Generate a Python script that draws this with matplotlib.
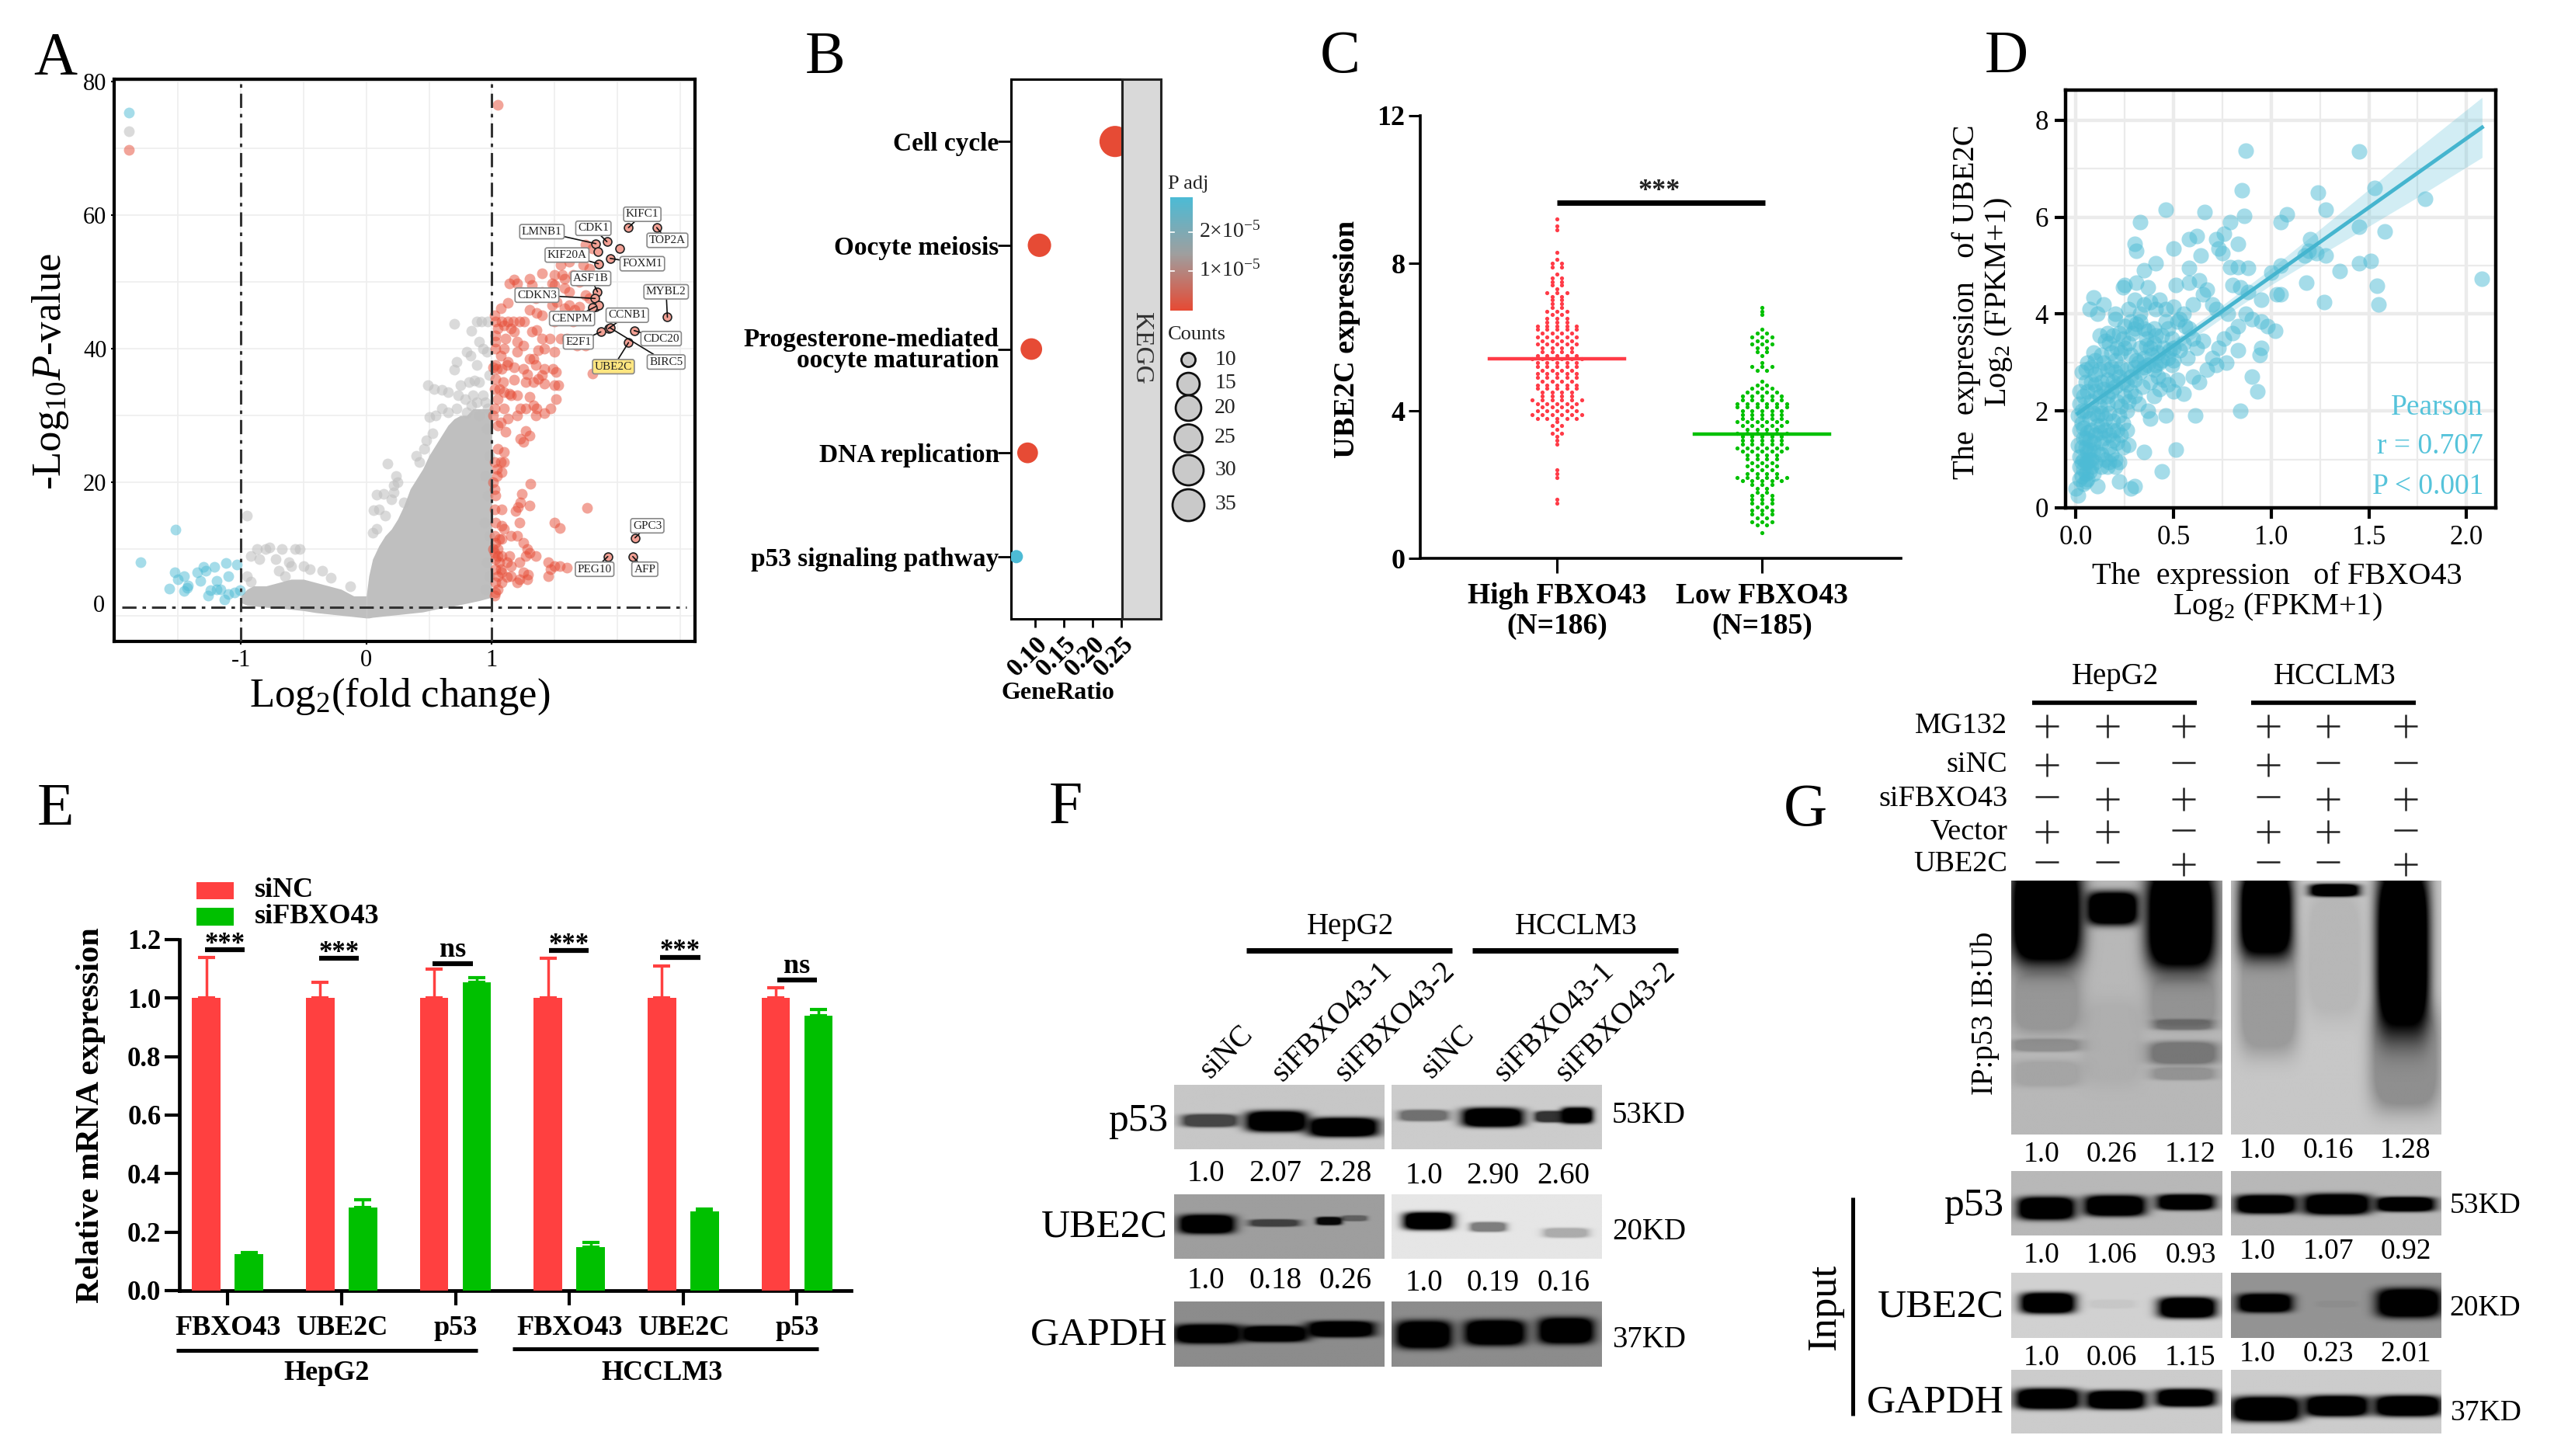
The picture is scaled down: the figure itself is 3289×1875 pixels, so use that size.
import numpy as np
import matplotlib
matplotlib.use("Agg")
import matplotlib.pyplot as plt
from matplotlib.colors import LinearSegmentedColormap
from matplotlib.patches import Rectangle

plt.rcParams['font.family'] = ['Liberation Serif', 'DejaVu Serif']
plt.rcParams['mathtext.fontset'] = 'custom'
plt.rcParams['mathtext.rm'] = 'Liberation Serif'
plt.rcParams['mathtext.it'] = 'Liberation Serif:italic'
plt.rcParams['mathtext.bf'] = 'Liberation Serif:bold'
plt.rcParams['axes.unicode_minus'] = False

W, H = 3289, 1875
RED, BLUE = '#E64B35', '#4DBBD5'

# ---------- Panel A data ----------
a_blue_x = [-1.89,-1.52,-1.80,-1.53,-1.50,-1.45,-1.57,-1.43,-1.42,-1.35,-1.32,-1.30,-1.28,-1.21,-1.19,-1.12,-1.10,-1.19,-1.16,-1.26,-1.13,-1.10,-1.05,-1.03,-1.01,-1.45,-1.24]
a_blue_y = [75.3,12.9,8.0,6.5,5.5,5.9,4.1,4.2,4.6,6.5,5.3,7.3,6.8,7.4,5.3,7.9,6.0,4.0,4.0,3.1,2.5,3.3,3.5,7.7,3.9,3.8,3.9]
a_grey_x = [-1.89,-.95,-.87,-.80,-.77,-.67,-.57,-.53,-.92,-.85,-.72,-.62,-.60,-.50,-.45,-.35,-.70,-.65,-.95,-.92,-.28,-.13,.17,.24,.25,.22,.14,.22,.08,.20,.30,.10,.06,.15,.05,.08,.40,.42,.46,.48,.53,.50,.55,.60,.60,.65,.49,.54,.70,.72,.75,.73,.79,.82,.86,.90,.80,.83,.88,.96,.70,.84,.88,.92,.97,.93,.90,.85,.90,.95,.98,.97,.93,.65,.72,.80,.84,.88,.96,.98,.95,.97,.94,.98,.96,.95,.98]
a_grey_y = [72.5,15,10,10,10.3,10,10,10,9,8.5,8.5,8,7.5,7.5,7,6.8,6.8,6,6,5.2,5.7,4.5,22.8,21,20,19.5,18.3,18.5,18.1,17.5,17,16,15.8,15,12.5,13,24,23,25,26.3,27.3,29.8,30,31,33.8,33.5,34.5,34,36.8,38,34.5,33,32.5,35,35.2,35,39.5,39,37.5,39.5,43.7,42.7,44,44,44,40,41,33,30,32,36,31,33,30.5,31,30.5,31.5,32,28,24,21,18,14,12,8,4,6]
a_red_x = [-1.89,1.045,1.75,1.80,1.62,1.55,1.73,1.78,1.40,1.50,1.56,1.30,1.18,1.20,1.14,1.32,1.48,1.50,1.58,1.65,1.70,1.24,1.40,1.58,1.62,1.75,1.78,1.35,1.52,1.62,1.70,1.48,1.13,1.07,1.02,1.30,1.36,1.40,1.58,1.66,1.72,1.52,
 1.03,1.08,1.13,1.17,1.22,1.26,1.10,1.05,1.15,1.32,1.03,1.18,1.36,1.50,1.65,1.03,1.11,1.20,1.25,1.40,1.46,1.55,1.60,1.75,1.68,1.03,1.10,1.20,1.37,1.42,1.50,1.07,1.30,1.33,1.13,1.03,1.01,1.04,1.08,1.12,1.18,1.25,1.35,1.42,1.49,1.51,1.40,1.28,1.37,1.80,
 1.03,1.09,1.18,1.27,1.33,1.42,1.50,1.53,1.02,1.06,1.10,1.14,1.20,1.30,1.51,1.05,1.15,1.02,1.23,1.27,1.33,1.36,1.42,1.47,1.10,1.01,1.20,1.35,1.13,1.07,1.05,1.11,1.27,1.30,1.23,1.25,
 1.05,1.10,1.02,1.07,1.10,1.04,1.08,1.04,1.01,1.31,1.02,1.03,1.24,1.23,1.21,1.19,1.30,1.76,1.02,1.08,1.03,1.08,1.10,1.22,1.15,1.50,1.54,1.02,1.06,1.08,1.20,1.25,1.03,1.05,1.01,1.28,1.30,1.02,1.05,1.08,1.14,1.27,1.35,1.03,1.06,1.12,1.22,1.45,1.50,1.15,1.03,1.07,1.47,1.54,1.60,1.08,1.15,1.25,1.29,1.45,1.05,1.12,1.22,1.28,1.03,1.08,1.20,1.05,1.03,1.02]
a_red_y = [69.7,76.5,55.5,55,53,52.5,52.5,52,51.3,51,51,50.5,50.3,49.8,49.7,49.5,49.7,49.5,50.5,51,50,48.5,48.5,49,48.5,48,47.5,47.5,47,46.5,46.3,46.5,46.8,46,45,45.8,45.3,45,46,45.8,45,44.5,
 44,44,44,44,44,44,43.5,43,43,42.5,42,42.5,42.8,44,44,41,41.5,41,40.5,41.5,41.5,41.5,41.5,40.5,40.5,40,40,39.5,39.8,40,39.5,39,38.5,38.5,38,37.5,37.2,37,37,37.5,37.2,37,37.5,37,37,36.5,36,36.2,35.5,36.3,
 35.5,35,35.3,35,35,34.8,34.5,34.5,34,34,33.5,33.2,33,32.8,32.5,32.5,33,31,31,31,31.5,31,30.3,31,31,30,30,30,29.5,29,28.5,27.6,27.7,27,26.5,26,
 25,24.5,23,23,23,22,21.5,21,20,19.8,19,18,18.3,17,16.3,15.7,16.5,16.2,16,16,14,13.5,13,14,12,14,13.2,12,11.5,11.5,12,11,11,10,10,10,9.5,9.5,9,9,9,9,9,8.5,8,8,8,8,7.5,7.5,7,7,7,7.5,7.2,6.5,6,6.5,6.2,6,6,5.8,5.5,5.5,5,5,5,4,3.5,3]
a_env_x_right = [0,.02,.05,.10,.15,.20,.25,.30,.35,.40,.45,.50,.55,.60,.65,.70,.75,.80,.85,.90,1.0]
a_env_hi_right = [3,6,8.5,10.5,12,13,14.5,16.5,19,20.5,22,24,25.5,27,28.5,29.5,30,30,31,31,31]
a_env_lo_right = [-.3,-.3,-.2,-.1,0,.1,.2,.3,.4,.5,.6,.8,1,1.2,1.3,1.5,1.7,1.9,2.1,2.3,2.8]
a_env_x_left = [-1,-.95,-.9,-.8,-.7,-.6,-.5,-.4,-.3,-.2,-.1,0]
a_env_hi_left = [3,4,4.5,4.5,5,5.5,5.5,5,4.5,4,3,3]
a_env_lo_left = [2,1.6,1.5,1.3,1.2,1,.8,.5,.3,.1,-.1,-.3]
a_genes = ['KIFC1','TOP2A','CDK1','LMNB1','FOXM1','KIF20A','ASF1B','MYBL2','CDKN3','CENPM','CCNB1','CDC20','E2F1','BIRC5','UBE2C','GPC3','PEG10','AFP']
a_gene_x = [2.09,2.315,1.918,1.83,1.944,1.85,1.843,2.40,1.824,1.83,1.93,2.135,1.869,1.944,2.09,2.142,1.925,2.124]
a_gene_y = [58.1,58.1,56,55.7,53.5,52.7,48.5,44.7,47.5,46.3,43.0,42.7,42.5,43.1,40.9,11.7,8.9,8.9]
a_lab_x = [2.20,2.40,1.81,1.40,2.20,1.60,1.79,2.39,1.36,1.64,2.08,2.35,1.69,2.39,1.97,2.24,1.82,2.22]
a_lab_y = [60.1,56.2,58,57.5,52.7,54,50.5,48.5,48,44.5,45,41.5,41,38,37.3,13.5,7,7]
a_extra_x = [2.02,1.846,1.85,1.80]
a_extra_y = [55,54.5,46.5,46.2]

# ---------- Panel B data ----------
b_terms = ['p53 signaling pathway','DNA replication','Progesterone-mediated\noocyte maturation','Oocyte meiosis','Cell cycle']
b_ratio = [.068,.0875,.094,.108,.239]
b_size = [150,370,400,470,835]
b_padj = [1,0,0,0,0]
b_counts = [10,15,20,25,30,35]
b_count_size = [170,430,560,670,790,870]

# ---------- Panel C data ----------
c_high_lv = [1.5,1.6,2.2,2.3,2.4,3.1,3.2,3.3,3.4,3.5,3.6,3.7,3.8,3.9,4.0,4.1,4.2,4.3,4.4,4.5,4.6,4.7,4.8,4.9,5.0,5.1,5.2,5.3,5.4,5.5,5.6,5.7,5.8,5.9,6.0,6.1,6.2,6.3,6.4,6.5,6.6,6.7,6.8,6.9,7.0,7.1,7.2,7.3,7.4,7.5,7.6,7.7,7.9,8.0,8.1,8.3,8.9,9.0,9.2]
c_high_n = [1,1,1,1,1,1,1,1,2,1,2,1,5,6,5,4,5,6,4,4,5,5,4,5,5,4,5,5,6,5,4,4,5,4,5,4,5,5,3,3,2,3,2,2,2,2,3,1,2,2,2,1,2,2,1,1,1,1,1]
c_low_lv = [.7,.9,1.0,1.1,1.2,1.3,1.4,1.5,1.6,1.7,1.8,1.9,2.0,2.1,2.2,2.3,2.4,2.5,2.6,2.7,2.8,2.9,3.0,3.1,3.2,3.3,3.4,3.5,3.6,3.7,3.8,3.9,4.0,4.1,4.2,4.3,4.4,4.5,4.6,4.7,4.8,5.1,5.2,5.3,5.5,5.6,5.7,5.8,5.9,6.0,6.1,6.2,6.6,6.7,6.8]
c_low_n = [1,2,3,2,3,3,2,3,3,3,2,2,3,5,6,4,3,4,3,4,4,5,6,5,5,5,6,4,5,6,5,5,5,6,6,5,5,4,3,2,1,2,3,1,1,2,2,3,2,3,2,1,1,1,1]
c_means = [5.42,3.36]
c_labels = ['High FBXO43\n(N=186)','Low FBXO43\n(N=185)']

# ---------- Panel D data ----------
d_pts = [(.87,7.37),(1.45,7.35),(.85,6.55),(1.24,6.5),(1.53,6.6),(1.79,6.38),(2.08,4.73),(.46,6.15),(.66,6.1),(.86,6.03),(.33,5.9),(1.08,6.05),(1.05,5.9),(1.28,6.15),(.79,5.9),(1.45,5.8),(1.58,5.7),(1.2,5.55),(.3,5.45),(.31,5.3),(.5,5.35),(.62,5.6),(.58,5.55),(.72,5.55),(.76,5.65),(.83,5.45),(.73,5.35),(.75,5.25),(.64,5.2),(1.19,5.3),(1.28,5.2),(1.05,5.0),(1.35,4.88),(1.45,5.05),(1.51,5.1),(.41,5.05),(.35,4.9),(.58,4.95),(.79,4.97),(.83,4.97),(.88,4.95),(1.17,5.2),(1.23,5.25),(1.0,4.85),(1.18,4.65),(1.54,4.58),(1.55,4.2),(1.27,4.25),(.24,4.55),(.25,4.6),(.31,4.65),(.37,4.55),(.51,4.6),(.58,4.65),(.63,4.7),(.65,4.4),(.67,4.5),(.8,4.6),(.84,4.55),(.88,4.45),(.95,4.3),(1.03,4.4),(1.05,4.4),(.09,4.35),(.07,4.1),(.14,4.2),(.11,4.0),(.2,3.9),
 (.12,3.55),(.15,3.45),(.17,3.4),(.21,3.3),(.23,3.2),(.25,3.3),(.27,3.4),(.29,3.6),(.3,3.7),(.31,3.8),(.33,3.85),(.35,3.7),(.36,3.5),(.38,3.3),(.39,3.15),(.4,3.4),(.42,3.2),(.43,3.0),(.44,3.55),(.46,3.85),(.47,3.7),(.49,3.5),(.5,3.3),(.52,3.85),(.53,3.9),(.56,3.75),(.58,3.7),(.6,3.5),(.62,3.3),(.65,3.45),(.7,3.1),(.73,3.3),(.76,3.5),(.8,3.6),(.83,3.75),(.83,3.25),(.77,3.0),(.87,4.0),(.9,3.9),(.95,3.85),(.98,3.75),(1.02,3.65),(.95,3.3),(.94,3.15),(.2,4.0),(.27,4.1),(.28,3.85),(.3,4.3),(.33,4.0),(.35,4.2),(.38,4.25),(.41,4.1),(.43,4.3),(.46,4.1),(.5,4.15),(.55,4.0),(.6,4.2),(.7,4.2),(.72,4.1),(.78,4.0),
 (.03,2.8),(.05,2.85),(.08,2.9),(.1,2.75),(.12,2.85),(.14,3.0),(.16,2.85),(.18,2.9),(.2,2.8),(.22,2.7),(.24,2.6),(.26,2.55),(.28,2.7),(.3,2.65),(.33,2.8),(.35,2.9),(.37,2.95),(.4,2.85),(.42,2.7),(.45,2.65),(.47,2.55),(.5,2.4),(.52,2.65),(.6,2.7),(.63,2.6),(.67,2.85),(.72,2.95),(.9,2.7),(.93,2.4),(.84,2.0),
 (.02,2.4),(.04,2.3),(.06,2.4),(.08,2.2),(.1,2.4),(.12,2.3),(.14,2.45),(.16,2.3),(.18,2.4),(.2,2.5),(.21,2.2),(.23,2.1),(.25,2.3),(.27,2.2),(.03,2.0),(.05,2.0),(.07,1.85),(.09,1.95),(.11,1.9),(.13,1.95),(.15,1.85),(.17,1.95),(.19,1.8),(.22,1.9),(.24,1.75),(.26,1.6),(.37,2.0),(.46,1.9),(.61,1.9),(.38,1.85),(.02,1.6),(.04,1.65),(.06,1.55),(.08,1.6),(.1,1.5),(.12,1.55),(.14,1.45),(.17,1.5),(.19,1.4),(.21,1.35),(.24,1.25),(.51,1.2),(.35,1.15),(.01,1.3),(.03,1.25),(.05,1.25),(.07,1.2),(.09,1.2),(.11,1.15),(.13,1.1),(.15,1.0),(.18,1.1),(.2,1.0),(.02,1.05),(.04,1.0),(.06,.95),
 (.02,.85),(.04,.8),(.05,.7),(.07,.75),(.08,.85),(.03,.65),(.05,.55),(.13,.85),(.16,.85),(.2,.85),(.22,.95),(.44,.75),(.0,.4),(.01,.25),(.11,.45),(.22,.55),(.28,.4),(.3,.45),(.02,.6),
 (.06,3.0),(.09,3.2),(.13,3.15),(.16,3.6),(.19,3.55),(.22,3.6),(.25,3.75),(.28,3.15),(.31,3.05),(.33,3.3),(.35,3.1),(.37,3.65),(.4,3.7),(.41,2.95),(.44,3.05),(.47,3.1),(.49,2.95),(.5,3.05),(.53,3.25),(.55,3.4),(.57,3.1),(.1,2.55),(.13,2.6),(.16,2.65),(.19,2.6),(.23,2.9),(.26,2.85),(.3,2.9),(.32,3.0),(.34,2.5),(.38,2.6),(.4,2.3),(.43,2.45),(.55,2.35),(.01,1.9),(.03,1.75),(.05,1.45),(.07,1.4),(.09,1.35),(.11,1.7),(.13,1.7),(.15,1.6),(.17,1.25),(.19,1.6),(.21,1.6),(.23,1.5),(.26,2.0),(.28,2.4),(.3,2.3),(.32,2.15),(.16,2.15),(.12,2.1),(.08,2.6),(.05,2.6),(.02,2.15),(.04,1.45),(.06,1.15),(.08,1.0),(.1,.95),(.03,.95),(.05,.95),(.07,1.0),(.09,.7),(.06,.6),(.04,.5),(.17,.95),(.27,1.3),(.13,1.35),(.36,3.35),(.41,3.55),(.45,3.3),(.48,3.25),(.24,3.5),(.18,3.2),(.2,3.05),(.1,3.05)]
d_line_x = [0.01,2.08]
d_line_y = [1.95,7.85]
d_ci_x = [0.01,.25,.5,.75,1.0,1.25,1.5,1.75,2.08]
d_ci_half = [.28,.17,.13,.13,.17,.27,.38,.5,.62]
d_ci_mid = [1.95,2.63,3.34,4.05,4.77,5.48,6.19,6.91,7.85]

# ---------- Panel E data ----------
e_labels = ['FBXO43','UBE2C','p53','FBXO43','UBE2C','p53']
e_red = [1,1,1,1,1,1]
e_red_top = [1.14,1.055,1.10,1.135,1.11,1.035]
e_green = [.125,.285,1.055,.15,.27,.94]
e_green_top = [.13,.31,1.07,.165,.28,.96]
e_sig = ['***','***','ns','***','***','ns']
e_sig_y = [1.166,1.136,1.118,1.163,1.14,1.063]

# ---------- Blot annotation text ----------
f_lanes = ['siNC','siFBXO43-1','siFBXO43-2','siNC','siFBXO43-1','siFBXO43-2']
f_ratio_p53 = ['1.0','2.07','2.28','1.0','2.90','2.60']
f_ratio_ube = ['1.0','0.18','0.26','1.0','0.19','0.16']
g_rows = ['MG132','siNC','siFBXO43','Vector','UBE2C']
g_signs = ['+++','+--','-++','++-','--+']
g_ratio_ip = ['1.0','0.26','1.12','1.0','0.16','1.28']
g_ratio_p53 = ['1.0','1.06','0.93','1.0','1.07','0.92']
g_ratio_ube = ['1.0','0.06','1.15','1.0','0.23','2.01']

fig = plt.figure(figsize=(W/100, H/100), dpi=100, facecolor='white')

def axpx(x0, y0, x1, y1):
    return fig.add_axes([x0/W, 1-y1/H, (x1-x0)/W, (y1-y0)/H])

ov = fig.add_axes([0,0,1,1], zorder=20)
ov.set_xlim(0,W); ov.set_ylim(H,0); ov.axis('off')

def T(x, y, s, size, **kw):
    kw.setdefault('ha','center'); kw.setdefault('va','center')
    return ov.text(x, y, s, fontsize=size, color=kw.pop('color','black'), **kw)

def zoomer(x0, y0, w, h):
    return (lambda z: x0 + z*w/1568.0), (lambda z: y0 + z*h/1568.0)

# panel letters
for s,x,y in [('A',71,76),('B',1063,75),('C',1726,74),('D',2584,74),('E',72,1043),('F',1372,1041),('G',2325,1044)]:
    T(x,y,s,56)

# ---------- A ----------
ax = axpx(147,102,895,826)
ax.set_xlim(-2.01,2.62); ax.set_ylim(-3.8,80.3)
ax.fill_between(a_env_x_right,a_env_lo_right,a_env_hi_right,color='#bfbfbf',lw=0,zorder=2)
ax.fill_between(a_env_x_left,a_env_lo_left,a_env_hi_left,color='#bfbfbf',lw=0,zorder=2)
ax.scatter(a_grey_x,a_grey_y,s=100,c='#bdbdbd',alpha=.55,lw=0,zorder=2)
ax.scatter(a_blue_x,a_blue_y,s=100,c=BLUE,alpha=.5,lw=0,zorder=3)
ax.scatter(a_red_x,a_red_y,s=100,c=RED,alpha=.5,lw=0,zorder=3)
ax.scatter(a_gene_x+a_extra_x,a_gene_y+a_extra_y,s=62,c='#f2a094',edgecolors='#222222',lw=1.2,zorder=4)
ax.axvline(-1,color='#333333',lw=2.2,ls=(0,(6,2.5,1.5,2.5)),zorder=5)
ax.axvline(1,color='#333333',lw=2.2,ls=(0,(6,2.5,1.5,2.5)),zorder=5)
ax.plot([-1.95,2.55],[1.3,1.3],color='#333333',lw=2.2,ls=(0,(6,2.5,1.5,2.5)),zorder=5)
ax.set_xticks([-1,0,1]); ax.set_xticklabels(['-1','0','1'])
ax.set_yticks([20,40,60,80])
ax.set_xticks(np.arange(-1.5,2.6,.5),minor=True)
ax.set_yticks(np.arange(0,80,10),minor=True)
ax.grid(which='both',color='#eeeeee',lw=1.2,zorder=0); ax.set_axisbelow(True)
ax.tick_params(which='minor',length=0)
ax.tick_params(which='major',length=3,width=1.5,labelsize=22,pad=4)
for s in ax.spines.values(): s.set_linewidth(3)
T(127,781,'0',22)
for g,gx,gy,lx,ly in zip(a_genes,a_gene_x,a_gene_y,a_lab_x,a_lab_y):
    fc = '#ffe680' if g=='UBE2C' else 'white'
    ax.annotate(g,xy=(gx,gy),xytext=(lx,ly),fontsize=11,ha='center',va='center',color='#222222',zorder=6,
                bbox=dict(boxstyle='round,pad=0.18',fc=fc,ec='#888888',lw=1.2),
                arrowprops=dict(arrowstyle='-',color='#111111',lw=1.2,shrinkA=0,shrinkB=0))
T(515,897,r'Log$_{2}$(fold change)',38)
T(65,478,r'-Log$_{10}$$\mathit{P}$-value',38,rotation=90)

# ---------- B ----------
ax = axpx(1302,102,1445,797)
ax.set_xlim(.0588,.2512); ax.set_ylim(.4,5.6)
cols = [BLUE if p else RED for p in b_padj]
ax.scatter(b_ratio,range(1,6),s=b_size,c=cols,lw=0,zorder=3)
ax.set_yticks(range(1,6)); ax.set_yticklabels(b_terms,fontweight='bold',fontsize=24,linespacing=.85)
for lab in ax.get_yticklabels():
    lab.set_y(lab.get_position()[1])
ax.set_xticks([.10,.15,.20,.25]); ax.set_xticklabels(['0.10','0.15','0.20','0.25'],fontweight='bold',fontsize=24,rotation=45,ha='right',rotation_mode='anchor')
ax.tick_params(axis='y',length=12,width=2,pad=-1)
ax.tick_params(axis='x',length=8,width=2,pad=4)
for s in ax.spines.values(): s.set_linewidth(2.2)
ov.add_patch(Rectangle((1445,102),50,695,fc='#d9d9d9',ec='#222222',lw=2.2))
T(1470,448,'KEGG',24,rotation=-90,color='#333333')
T(1362,892,'GeneRatio',23,fontweight='bold')
T(1530,237,'P adj',19,color='#222222')
cm = LinearSegmentedColormap.from_list('padj',[RED,'#9f9f9f',BLUE])
ov.imshow(np.linspace(1,0,100)[:,None],cmap=cm,extent=(1507,1536,400,254),aspect='auto')
ov.set_xlim(0,W); ov.set_ylim(H,0)
for yy in (299,349):
    ov.plot([1507,1512],[yy,yy],color='white',lw=1.2); ov.plot([1531,1536],[yy,yy],color='white',lw=1.2)
T(1544,298,r'2×10$^{-5}$',20,ha='left',color='#222222')
T(1544,348,r'1×10$^{-5}$',20,ha='left',color='#222222')
T(1541,431,'Counts',19,color='#222222')
leg_y = [463,494,525,564,605,650]
for c,sz,yy in zip(b_counts,b_count_size,leg_y):
    ov.scatter([1530],[yy],s=sz,c='#c9c9c9',edgecolors='#111111',lw=2,zorder=3)
    T(1578,yy,str(c),20,color='#222222')

# ---------- C ----------
ax = axpx(1829,149,2448,719)
ax.set_xlim(-.667,1.678); ax.set_ylim(0,12)
def swarm(levels, counts, pos):
    xs,ys=[],[]
    for l,n in zip(levels,counts):
        off=(np.arange(n)-(n-1)/2)*.048
        xs+=list(pos+off); ys+=[l]*n
    return xs,ys
for lv,n,pos,col in [(c_high_lv,c_high_n,0,'#FF3B47'),(c_low_lv,c_low_n,1,'#00C000')]:
    x,y=swarm(lv,n,pos)
    ax.scatter(x,y,s=14,c=col,lw=0,zorder=3)
    ax.plot([pos-.33,pos+.33],[c_means[pos]]*2,color=col,lw=3.2,zorder=4)
ax.plot([0,1.015],[9.64,9.64],color='black',lw=5,solid_capstyle='butt',clip_on=False)
ax.text(.5,9.95,'***',fontsize=26,ha='center',va='center',fontweight='bold',color='#222222')
ax.set_xticks([0,1]); ax.set_xticklabels(c_labels,fontweight='bold',fontsize=27,linespacing=1.15)
ax.set_yticks([0,4,8,12]); ax.set_yticklabels(['0','4','8','12'],fontweight='bold',fontsize=26)
for s in ('top','right'): ax.spines[s].set_visible(False)
for s in ('left','bottom'): ax.spines[s].set_linewidth(2.6)
ax.tick_params(axis='x',length=14,width=2.2,pad=8)
ax.tick_params(axis='y',length=11,width=2.2,pad=3)
T(1735,437,'UBE2C expression',27.5,fontweight='bold',rotation=90)

# ---------- D ----------
ax = axpx(2660,116,3214,654)
ax.set_xlim(-.053,2.15); ax.set_ylim(0,8.62)
ax.set_xticks([0,.5,1,1.5,2]); ax.set_xticklabels(['0.0','0.5','1.0','1.5','2.0'],fontsize=25)
ax.set_yticks([0,2,4,6,8]); ax.tick_params(labelsize=25,length=10,width=3,pad=6)
ax.set_xticks([.25,.75,1.25,1.75],minor=True); ax.set_yticks([1,3,5,7],minor=True)
ax.tick_params(which='minor',length=0)
ax.grid(which='major',color='#ebebeb',lw=3.2); ax.grid(which='minor',color='#ebebeb',lw=1.6)
ax.set_axisbelow(True)
dx=[p[0] for p in d_pts]; dy=[p[1] for p in d_pts]
ax.scatter(dx,dy,s=210,c=BLUE,alpha=.5,lw=0,zorder=3)
ax.fill_between(d_ci_x,np.array(d_ci_mid)-d_ci_half,np.array(d_ci_mid)+d_ci_half,color=BLUE,alpha=.25,lw=0,zorder=3)
ax.plot(d_line_x,d_line_y,color='#45B5CF',lw=3.5,zorder=4)
for s in ax.spines.values(): s.set_linewidth(3.2)
zx,zy = zoomer(1650,30,1600,830)
for s,yy in [('Pearson',935),('r = 0.707',1030),('P < 0.001',1127)]:
    T(zx(1517),zy(yy),s,27,ha='right',color='#55C3DA')
T(zx(1257),zy(1345),'The  expression   of FBXO43',29)
T(zx(1257),zy(1420),r'Log$_{2}$ (FPKM+1)',29)
T(zx(865),zy(677),'The  expression   of UBE2C',29,rotation=90)
T(zx(905),zy(678),r'Log$_{2}$ (FPKM+1)',29,rotation=90)

# ---------- E ----------
ax = axpx(231,1210,1096,1662)
ax.set_xlim(-.425,5.475); ax.set_ylim(0,1.2)
pos=np.arange(6)
ax.bar(pos-.1875,e_red,.25,color='#FF4040',zorder=3)
ax.bar(pos+.1875,e_green,.25,color='#00C000',zorder=3)
e_sig_x0 = [-.2,-.2,-.2,-.18,-.2,-.175]
for i in pos:
    ax.errorbar(i-.1875,e_red[i],yerr=[[0],[e_red_top[i]-e_red[i]]],color='#FF4040',capsize=8,capthick=3,elinewidth=2.5,zorder=2)
    ax.errorbar(i+.1875,e_green[i],yerr=[[0],[e_green_top[i]-e_green[i]]],color='#00C000',capsize=8,capthick=3,elinewidth=2.5,zorder=2)
    x0=i+e_sig_x0[i]
    ax.plot([x0,x0+.35],[e_sig_y[i]]*2,color='black',lw=4.5,solid_capstyle='butt',clip_on=False,zorder=4)
    if e_sig[i]=='ns':
        ax.text(x0+.175,e_sig_y[i]+.045,'ns',fontsize=26,fontweight='bold',ha='center',va='center',clip_on=False)
    else:
        ax.text(x0+.175,e_sig_y[i]+.018,'***',fontsize=25,fontweight='bold',ha='center',va='center',clip_on=False)
ax.set_xticks(pos); ax.set_xticklabels(e_labels,fontweight='bold',fontsize=26)
ax.set_yticks(np.arange(0,1.3,.2)); ax.set_yticklabels(['0.0','0.2','0.4','0.6','0.8','1.0','1.2'],fontweight='bold',fontsize=25)
for s in ('top','right'): ax.spines[s].set_visible(False)
for s in ('left','bottom'): ax.spines[s].set_linewidth(3.4)
ax.tick_params(axis='x',length=14,width=3,pad=9)
ax.tick_params(axis='y',length=14,width=3,pad=3)
zx,zy = zoomer(0,1000,1150,850)
ov.add_patch(Rectangle((zx(345),zy(250)),zx(411)-zx(345),zy(292)-zy(250),fc='#FF4040',lw=0))
ov.add_patch(Rectangle((zx(345),zy(312)),zx(411)-zx(345),zy(355)-zy(312),fc='#00C000',lw=0))
T(zx(447),zy(270),'siNC',26,ha='left',fontweight='bold')
T(zx(447),zy(333),'siFBXO43',26,ha='left',fontweight='bold')
T(zx(160),zy(805),'Relative mRNA expression',30.5,rotation=90,fontweight='bold')
ov.plot([zx(310),zx(838)],[zy(1363)]*2,color='black',lw=3.6,solid_capstyle='butt')
ov.plot([zx(900),zx(1437)],[zy(1360)]*2,color='black',lw=3.6,solid_capstyle='butt')
T(zx(574),zy(1417),'HepG2',26,fontweight='bold')
T(zx(1163),zy(1417),'HCCLM3',26,fontweight='bold')

# ---------- blots ----------
def blot(fx, fy, x0, y0, x1, y1, bg, bands):
    X0,X1,Y0,Y1 = fx(x0),fx(x1),fy(y0),fy(y1)
    nx,ny = int(X1-X0),int(Y1-Y0)
    xx,yy = np.meshgrid(np.linspace(x0,x1,nx),np.linspace(y0,y1,ny))
    keep = np.ones_like(xx)
    for cx,cy,hw,hh,st in bands:
        p = 1.8*np.exp(-np.abs((xx-cx)/hw)**4-np.abs((yy-cy)/hh)**4)
        keep *= 1-st*np.clip(p,0,1)
    ov.imshow(bg*keep,cmap='gray',vmin=0,vmax=1,extent=(X0,X1,Y1,Y0),aspect='auto',interpolation='bilinear',zorder=1)
    ov.set_xlim(0,W); ov.set_ylim(H,0)

# ---------- F ----------
zx,zy = zoomer(1300,1000,900,800)
L=(370,842); R=(858,1330)
blot(zx,zy,*[L[0],778,L[1],940],.78,[(450,868,62,16,.65),(600,870,68,26,1.),(750,885,78,24,1.)])
blot(zx,zy,*[R[0],778,R[1],940],.80,[(930,855,55,14,.45),(1085,860,68,24,1.),(1220,858,40,14,.75),(1275,855,35,20,1.)])
blot(zx,zy,*[L[0],1055,L[1],1217],.62,[(443,1130,62,24,1.),(595,1127,55,9,.6),(718,1122,28,10,.95),(775,1115,28,7,.4)])
blot(zx,zy,*[R[0],1055,R[1],1217],.90,[(940,1122,55,22,1.),(1075,1137,40,12,.45),(1250,1152,50,12,.25)])
blot(zx,zy,*[L[0],1327,L[1],1490],.55,[(445,1408,75,24,1.),(595,1408,75,20,1.),(745,1396,75,20,1.)])
blot(zx,zy,*[R[0],1327,R[1],1490],.55,[(930,1410,62,35,1.),(1090,1405,68,32,1.),(1250,1400,62,33,1.)])
for s,x,y in zip(f_lanes,[488,725,865,985,1222,1360],[695,620,620,695,620,620]):
    T(zx(x),zy(y),s,28,rotation=45,rotation_mode='anchor')
for s,y in [('p53',870),('UBE2C',1137),('GAPDH',1410)]:
    T(zx(355),zy(y),s,37,ha='right')
for s,y in [('53KD',855),('20KD',1150),('37KD',1422)]:
    T(zx(1352),zy(y),s,28,ha='left')
fxs=[440,596,753,930,1085,1243]
for i,(a,b) in enumerate(zip(f_ratio_p53,f_ratio_ube)):
    T(zx(fxs[i]),zy(1003 if i<3 else 1008),a,28)
    T(zx(fxs[i]),zy(1273 if i<3 else 1278),b,28)
T(zx(765),zy(380),'HepG2',28); T(zx(1272),zy(380),'HCCLM3',28)
for a,b in [(532,993),(1038,1500)]:
    ov.plot([zx(a),zx(b)],[zy(440)]*2,color='black',lw=5,solid_capstyle='butt')

# ---------- G ----------
zx,zy = zoomer(2300,830,989,1045)
L=(459,889); R=(909,1338)
blot(zx,zy,L[0],457,L[1],947,.72,[(530,520,72,100,1.),(665,510,52,32,1.),(805,530,70,100,1.),
    (530,690,70,60,.18),(530,775,70,12,.22),(530,830,70,25,.1),(665,770,60,80,.05),(810,690,70,50,.2),(810,790,70,22,.35),(810,830,65,12,.2),(810,735,60,10,.3)])
blot(zx,zy,R[0],457,R[1],947,.78,[(980,520,54,85,1.),(985,680,60,110,.22),(1120,475,50,12,1.),(1120,600,55,120,.08),(1260,590,54,165,1.),(1265,800,70,100,.28)])
blot(zx,zy,L[0],1018,L[1],1142,.72,[(530,1090,58,22,1.),(670,1085,62,20,1.),(815,1078,58,15,1.)])
blot(zx,zy,R[0],1018,R[1],1142,.72,[(980,1082,62,18,1.),(1125,1082,68,20,1.),(1265,1082,60,14,1.)])
blot(zx,zy,L[0],1215,L[1],1340,.82,[(533,1273,55,20,1.),(665,1275,45,8,.05),(818,1282,58,20,1.)])
blot(zx,zy,R[0],1215,R[1],1340,.58,[(978,1273,55,18,1.),(1125,1275,40,6,.05),(1272,1273,65,28,1.)])
blot(zx,zy,L[0],1402,L[1],1525,.80,[(533,1458,65,20,1.),(672,1460,60,18,1.),(815,1456,60,17,1.)])
blot(zx,zy,R[0],1402,R[1],1525,.80,[(980,1478,70,24,1.),(1125,1472,65,20,1.),(1270,1472,68,20,1.)])
gcols=[533,657,812,985,1107,1265]
grows=[157,232,298,362,424]
for name,sg,yy in zip(g_rows,g_signs,grows):
    T(zx(452),zy(yy),name,27.5,ha='right')
    for cx,ch in zip(gcols,sg+sg):
        ov.plot([zx(cx)],[zy(yy if ch=='+' else yy-4)],marker='+' if ch=='+' else '_',ms=21,mew=1.8,color='#222222',ls='none')
T(zx(672),zy(62),'HepG2',28); T(zx(1120),zy(62),'HCCLM3',28)
for a,b in [(503,838),(950,1285)]:
    ov.plot([zx(a),zx(b)],[zy(112)]*2,color='black',lw=4,solid_capstyle='butt')
T(zx(407),zy(712),'IP:p53 IB:Ub',28,rotation=90)
gxs=[522,665,826,962,1107,1265]
for i,(a,b,c) in enumerate(zip(g_ratio_ip,g_ratio_p53,g_ratio_ube)):
    d=0 if i<3 else -7
    T(zx(gxs[i]),zy(985+d),a,27)
    T(zx(gxs[i]),zy(1180+d),b,27)
    T(zx(gxs[i]),zy(1378+d),c,27)
for s,y in [('p53',1085),('UBE2C',1280),('GAPDH',1465)]:
    T(zx(445),zy(y),s,37,ha='right')
for s,y in [('53KD',1085),('20KD',1283),('37KD',1485)]:
    T(zx(1355),zy(y),s,27,ha='left')
T(zx(80),zy(1280),'Input',38,rotation=90)
ov.plot([zx(137)]*2,[zy(1068),zy(1490)],color='black',lw=3.6,solid_capstyle='butt')

fig.savefig('out.png',dpi=100)
